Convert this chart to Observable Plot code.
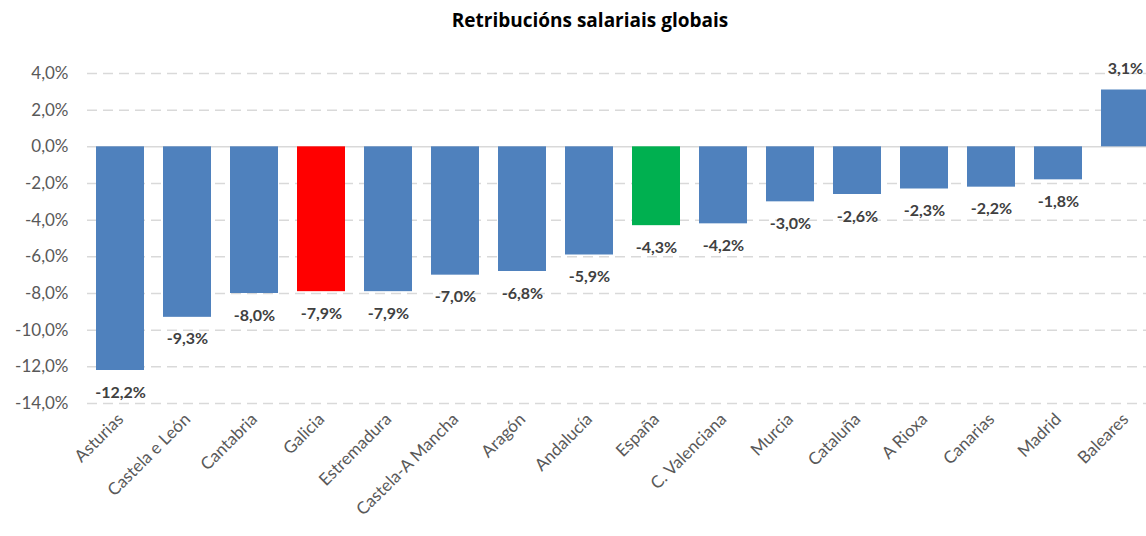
<!DOCTYPE html>
<html>
<head>
<meta charset="utf-8">
<script src="https://cdn.jsdelivr.net/npm/d3@7"></script>
<script src="https://cdn.jsdelivr.net/npm/@observablehq/plot@0.6"></script>
<style>
  body { margin: 0; background: #fff; font-family: Lato, "Open Sans", sans-serif; }
  #title { height: 40px; line-height: 40px; text-align: center; font-family: "Open Sans", sans-serif; font-weight: bold; font-size: 19px; color: #000; padding-left: 34px; box-sizing: border-box; width: 1146px; }
  svg { display: block; overflow: hidden; }
</style>
</head>
<body>
<div id="title">Retribucións salariais globais</div>
<div id="chart"></div>
<script>
const regions = ["Asturias", "Castela e León", "Cantabria", "Galicia", "Estremadura", "Castela-A Mancha", "Aragón", "Andalucía", "España", "C. Valenciana", "Murcia", "Cataluña", "A Rioxa", "Canarias", "Madrid", "Baleares"];
const values = [-12.2, -9.3, -8.0, -7.9, -7.9, -7.0, -6.8, -5.9, -4.3, -4.2, -3.0, -2.6, -2.3, -2.2, -1.8, 3.1];
const yTicks = [4, 2, 0, -2, -4, -6, -8, -10, -12, -14];
const highlight = { "Galicia": "#FF0000", "España": "#00B050" };

const data = regions.map((r, i) => ({ region: r, value: values[i], color: highlight[r] || "#4F81BD" }));
const fmt = v => v.toFixed(1).replace(".", ",") + "%";

const chart = Plot.plot({
  width: 1146,
  height: 496,
  marginTop: 33,
  marginBottom: 133,
  marginLeft: 87,
  marginRight: 0,
  style: { fontFamily: "Lato, 'Open Sans', sans-serif", fontSize: "16px", color: "#595959", background: "#fff" },
  x: { domain: regions, range: [86.5, 1158.5], paddingInner: 0.29, paddingOuter: 0.145, label: null },
  y: { domain: [-14, 4], label: null },
  marks: [
    Plot.gridY(yTicks.filter(d => d !== 0), { stroke: "#d9d9d9", strokeOpacity: 1, strokeWidth: 1.5, strokeDasharray: "10,6" }),
    Plot.ruleY([0], { stroke: "#d9d9d9", strokeWidth: 1.5 }),
    Plot.barY(data, { x: "region", y: "value", fill: "color" }),
    Plot.text(data.filter(d => d.value < 0), { x: "region", y: "value", text: d => fmt(d.value), dy: 22, fill: "#404040", fontWeight: "bold", fontSize: 16 }),
    Plot.text(data.filter(d => d.value >= 0), { x: "region", y: "value", text: d => fmt(d.value), dy: -21, fill: "#404040", fontWeight: "bold", fontSize: 16 }),
    Plot.axisY({ ticks: yTicks, tickFormat: fmt, tickSize: 0, tickPadding: 19, fill: "#595959", fontSize: 17 }),
    Plot.axisX({ tickSize: 0, tickPadding: 13, tickRotate: -45, fill: "#595959", fontSize: 17 })
  ]
});
document.getElementById("chart").appendChild(chart);
</script>
</body>
</html>
